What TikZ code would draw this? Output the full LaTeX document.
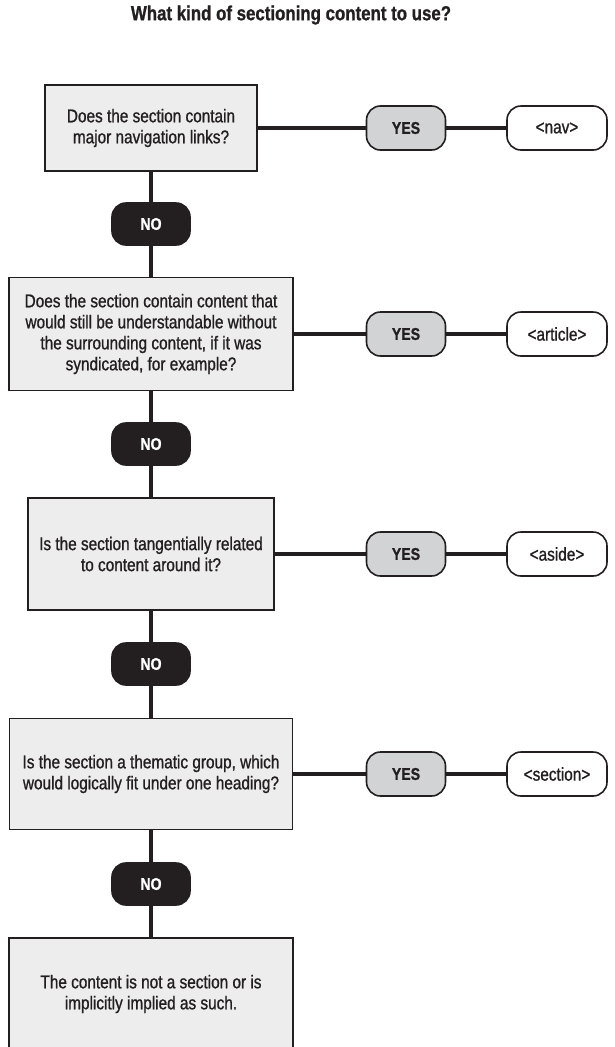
\documentclass[tikz,border=0pt]{standalone}
\usepackage{fontspec}
\setmainfont{Liberation Sans}[FakeStretch=0.83, FakeBold=1]
\usetikzlibrary{positioning, shapes}
\definecolor{boxgray}{HTML}{EDEDED}
\definecolor{yesgray}{HTML}{D1D3D4}
\definecolor{inkblack}{HTML}{231F20}
\tikzstyle{qblock} = [rectangle, draw=inkblack, line width=1.6pt, fill=boxgray,
text=inkblack, align=center, font=\fontsize{18.5}{21}\selectfont]
\tikzstyle{noblock} = [rectangle, draw=inkblack, line width=1.6pt, fill=inkblack, text=white,
rounded corners=14pt, minimum width=78pt, minimum height=42pt, font=\bfseries\fontsize{17}{21}\selectfont]
\tikzstyle{yesblock} = [rectangle, draw=inkblack, line width=1.6pt, fill=yesgray, text=inkblack,
rounded corners=14pt, minimum width=79pt, minimum height=44pt, font=\bfseries\fontsize{17}{21}\selectfont]
\tikzstyle{tagblock} = [rectangle, draw=inkblack, line width=1.6pt, fill=white, text=inkblack,
rounded corners=14pt, minimum width=100pt, minimum height=44pt, font=\fontsize{18.5}{21}\selectfont]
\tikzstyle{link} = [draw=inkblack, line width=3.6pt]

\begin{document}
\begin{tikzpicture}[x=1pt, y=1pt, node distance=110pt]
    \useasboundingbox (0,0) rectangle (614,-1047);
    \node (Title) at (291,-15) [text=inkblack, font=\bfseries\fontsize{20.3}{24}\selectfont] {What kind of sectioning content to use?};
    % questions and answers down the left
	\node (Nav) [qblock, minimum width=212pt, minimum height=86pt] at (151,-128) {Does the section contain\\ major navigation links?};
	\node (NoA) [noblock, below of=Nav, yshift=14pt] {NO};
	\node (Article) [qblock, below of=NoA, minimum width=284pt, minimum height=113pt] {Does the section contain content that\\ would still be understandable without\\ the surrounding content, if it was\\ syndicated, for example?};
	\node (NoB) [noblock, below of=Article] {NO};
	\node (Aside) [qblock, below of=NoB, minimum width=246pt, minimum height=112pt] {Is the section tangentially related\\ to content around it?};
	\node (NoC) [noblock, below of=Aside] {NO};
	\node (Section) [qblock, below of=NoC, minimum width=283pt, minimum height=111pt] {Is the section a thematic group, which\\ would logically fit under one heading?};
	\node (NoD) [noblock, below of=Section] {NO};
	\node (Other) [qblock, below of=NoD, minimum width=284pt, minimum height=112pt] {The content is not a section or is\\ implicitly implied as such.};
    % yes branches
    \node (YesA) [yesblock, right of=Nav, xshift=145pt] {YES};
    \node (TagA) [tagblock, right of=YesA, xshift=41pt] {<nav>};
    \node (YesB) [yesblock, right of=Article, xshift=145pt] {YES};
    \node (TagB) [tagblock, right of=YesB, xshift=41pt] {<article>};
    \node (YesC) [yesblock, right of=Aside, xshift=145pt] {YES};
    \node (TagC) [tagblock, right of=YesC, xshift=41pt] {<aside>};
    \node (YesD) [yesblock, right of=Section, xshift=145pt] {YES};
    \node (TagD) [tagblock, right of=YesD, xshift=41pt] {<section>};

	\draw [link] (Nav) -- (NoA);
	\draw [link] (NoA) -- (Article);
	\draw [link] (Article) -- (NoB);
	\draw [link] (NoB) -- (Aside);
	\draw [link] (Aside) -- (NoC);
	\draw [link] (NoC) -- (Section);
	\draw [link] (Section) -- (NoD);
	\draw [link] (NoD) -- (Other);
    \draw [link] (Nav) -- (YesA) -- (TagA);
    \draw [link] (Article) -- (YesB) -- (TagB);
    \draw [link] (Aside) -- (YesC) -- (TagC);
    \draw [link] (Section) -- (YesD) -- (TagD);
\end{tikzpicture}
\end{document}
